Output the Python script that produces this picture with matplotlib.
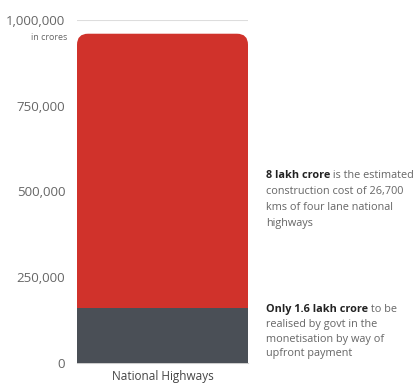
import matplotlib

matplotlib.use("Agg")
import matplotlib.pyplot as plt
from matplotlib.patches import FancyBboxPatch

plt.rcParams["font.family"] = ["Open Sans", "DejaVu Sans"]

category = ["National Highways"]
upfront = [160000]        # dark segment, crore
construction = [800000]   # red segment, crore
yticks = [0, 250000, 500000, 750000, 1000000]

RED = "#d0322b"
SLATE = "#4a4f56"
TEXT = "#666666"

W, H = 417, 385
fig = plt.figure(figsize=(W / 100, H / 100), dpi=100)
ax = fig.add_axes([77 / W, 22 / H, 171 / W, 343 / H])

bars_low = ax.bar(category, upfront, width=1.0, color=SLATE, zorder=3)
bars_top = ax.bar(category, construction, bottom=upfront, width=1.0, color=RED, zorder=2)

ax.set_xlim(-0.5, 0.5)
ax.set_ylim(0, 1000000)

# swap the red rectangle for one with rounded top corners; it runs down to the
# base so its lower rounding sits hidden behind the dark segment
radius_px = 11
ax_w_px, ax_h_px = 171, 343
x_per_px = 1.0 / ax_w_px
y_per_px = 1000000 / ax_h_px
for rect in bars_top:
    x0, w = rect.get_x(), rect.get_width()
    top = rect.get_y() + rect.get_height()
    rect.set_visible(False)
    ax.add_patch(FancyBboxPatch(
        (x0, 0), w, top,
        boxstyle=f"round,pad=0,rounding_size={radius_px * x_per_px}",
        mutation_aspect=y_per_px / x_per_px,
        facecolor=RED, edgecolor="none", zorder=2,
    ))

ax.set_yticks(yticks)
ax.set_yticklabels([f"{v:,}" for v in yticks])
ax.tick_params(axis="y", length=0, pad=8.5, labelsize=9.5, labelcolor=TEXT)
ax.tick_params(axis="x", length=0, pad=5, labelsize=8.5, labelcolor="#444444")
ax.grid(axis="y", color="#dddddd", linewidth=0.8, zorder=0)
for side in ("top", "right", "left"):
    ax.spines[side].set_visible(False)
ax.spines["bottom"].set_color("#cccccc")
ax.spines["bottom"].set_linewidth(0.8)

fig.text(67 / W, 1 - 38 / H, "in crores", ha="right", va="center",
         fontsize=6.5, color=TEXT)


def note(y_px, step_px, bold, rest_first, lines):
    fx = 266 / W
    fy = 1 - y_px / H
    b = fig.text(fx, fy, bold, fontsize=7.8, fontweight="bold", color="#222222",
                 ha="left", va="baseline")
    ax.annotate(rest_first, xy=(1, 0), xycoords=b, xytext=(0, 0),
                textcoords="offset points", fontsize=7.8, color=TEXT,
                ha="left", va="bottom")
    for i, line in enumerate(lines, start=1):
        fig.text(fx, fy - i * step_px / H, line, fontsize=7.8, color=TEXT,
                 ha="left", va="baseline")


note(178, 16.0, "8 lakh crore", " is the estimated",
     ["construction cost of 26,700", "kms of four lane national", "highways"])
note(312, 14.8, "Only 1.6 lakh crore", " to be",
     ["realised by govt in the", "monetisation by way of", "upfront payment"])

fig.savefig("out.png", dpi=100, facecolor="white")
